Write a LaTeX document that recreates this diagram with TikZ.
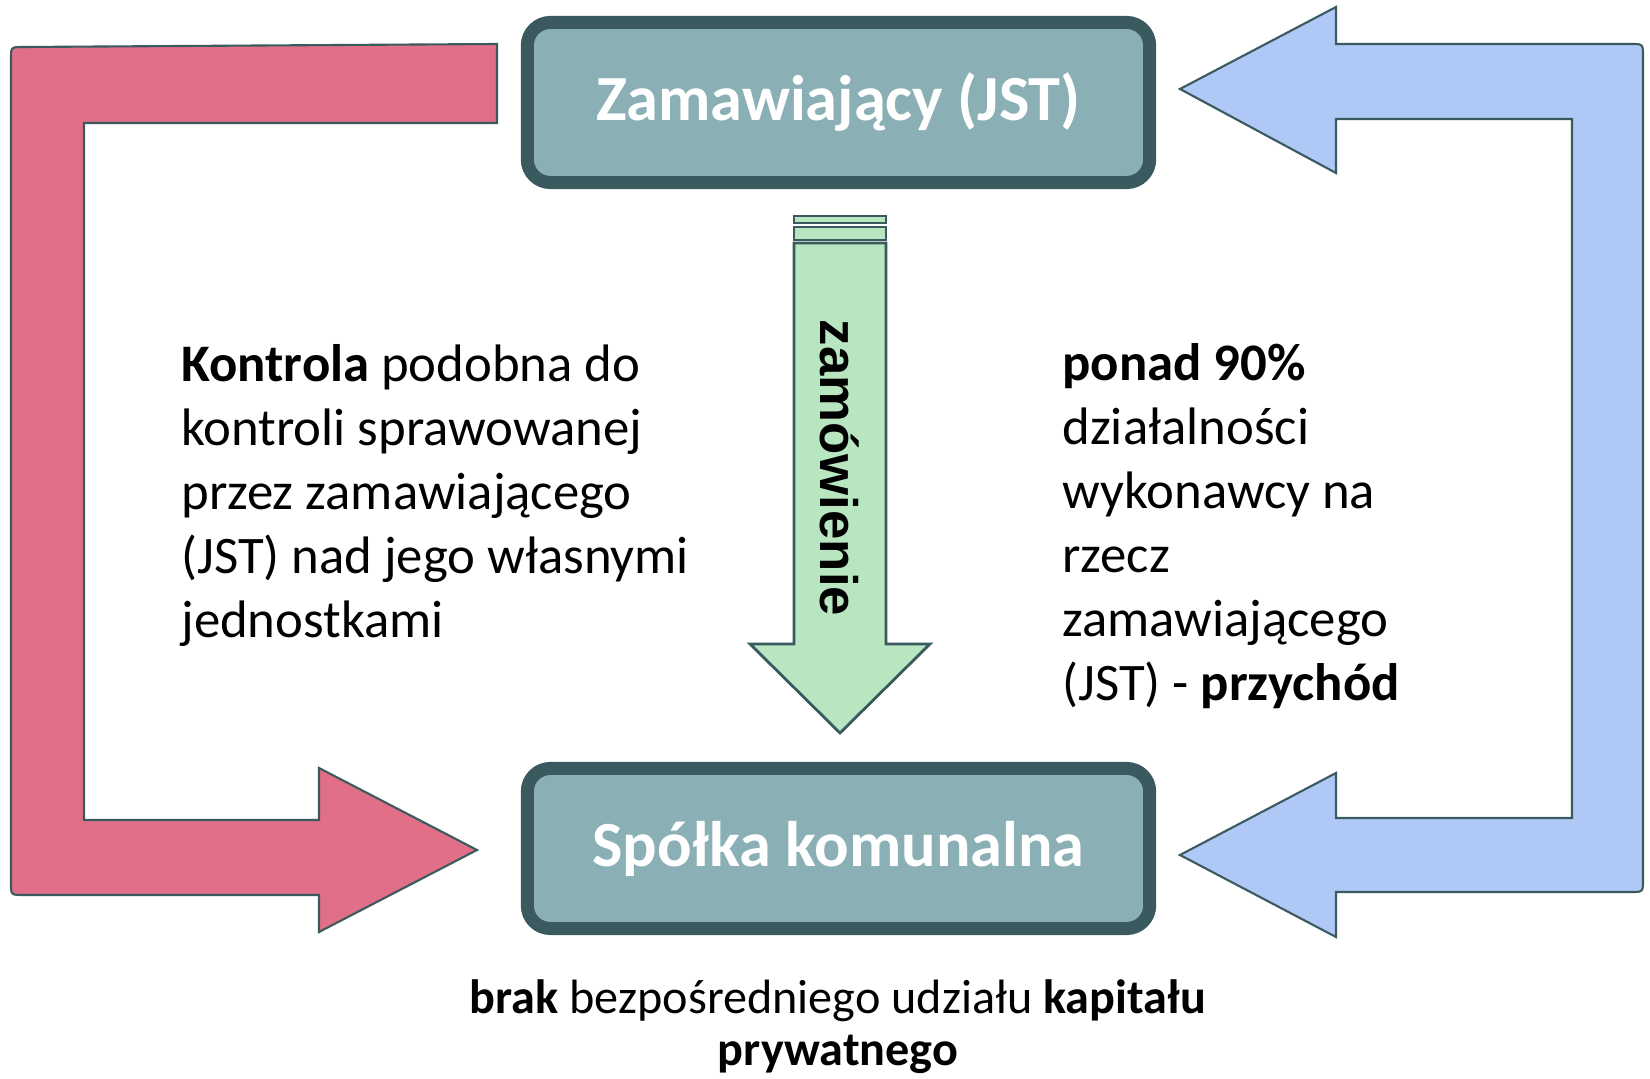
\documentclass[tikz,border=0pt]{standalone}
\usepackage{fontspec}
\setmainfont{Carlito}
\newfontfamily\arialfont{Liberation Sans}

\definecolor{boxfill}{RGB}{138,176,182}
\definecolor{boxline}{RGB}{58,90,96}
\definecolor{redfill}{RGB}{224,111,135}
\definecolor{bluefill}{RGB}{176,200,245}
\definecolor{greenfill}{RGB}{184,230,193}

\begin{document}
\begin{tikzpicture}[x=0.01cm, y=-0.01cm,
        node box/.style = {rectangle, rounded corners=0.23cm, draw=boxline, line width=3.7pt, fill=boxfill, text=white, font=\fontsize{18.3}{22}\selectfont\bfseries, minimum width=6.22cm, minimum height=1.6cm},
        arrow red/.style = {draw=boxline, line width=0.6pt, fill=redfill},
        arrow blue/.style = {draw=boxline, line width=0.6pt, fill=bluefill},
        arrow green/.style = {draw=boxline, line width=0.8pt, fill=greenfill},
        side text/.style = {anchor=base west, align=left, font=\fontsize{15}{18.2}\selectfont},  % Style for text blocks (anchored at last line)
        ]
        \useasboundingbox (0,0) rectangle (1650,1079);

        % Main boxes
        \node[node box] (JST) at (838.5,102.5) {Zamawiający (JST)};
        \node[node box] (SK) at (838.5,848.5) {Spółka komunalna};

        % Left arrow: control
        \draw[arrow red] (497,44) -- (497,123) -- (84,123) -- (84,820) -- (319,820) -- (319,768)
            -- (477,850) -- (319,932) -- (319,895) -- (23,895) .. controls (11,895) .. (11,883)
            -- (11,59) .. controls (11,47) .. (23,47) -- cycle;

        % Right arrow: turnover
        \draw[arrow blue] (1336,44) -- (1631,44) .. controls (1643,44) .. (1643,56)
            -- (1643,880) .. controls (1643,892) .. (1631,892) -- (1336,892) -- (1336,937)
            -- (1180,855) -- (1336,773) -- (1336,818) -- (1572,818) -- (1572,119)
            -- (1336,119) -- (1336,173) -- (1180,89) -- (1336,7) -- cycle;

        % Middle arrow: order
        \draw[arrow green] (794,216) rectangle (886,223);
        \draw[arrow green] (794,227) rectangle (886,240);
        \draw[arrow green] (794,243) -- (886,243) -- (886,644) -- (930,644) -- (840,733)
            -- (750,644) -- (794,644) -- cycle;
        \node[rotate=-90, font=\arialfont\bfseries\fontsize{15}{18}\selectfont] (order) at (840,468) {zamówienie};

        % Text blocks
        \node[side text] (control) at (169,638) {\textbf{Kontrola} podobna do\\kontroli sprawowanej\\przez zamawiającego\\(JST) nad jego własnymi\\jednostkami};
        \node[side text] (income) at (1050,701) {\textbf{ponad 90\%}\\działalności\\wykonawcy na\\rzecz\\zamawiającego\\(JST) - \textbf{przychód}};
        \node[anchor=base, align=center, font=\fontsize{13.7}{14.8}\selectfont] (capital) at (838,1066) {\textbf{brak} bezpośredniego udziału \textbf{kapitału}\\\textbf{prywatnego}};
    \end{tikzpicture}
\end{document}
